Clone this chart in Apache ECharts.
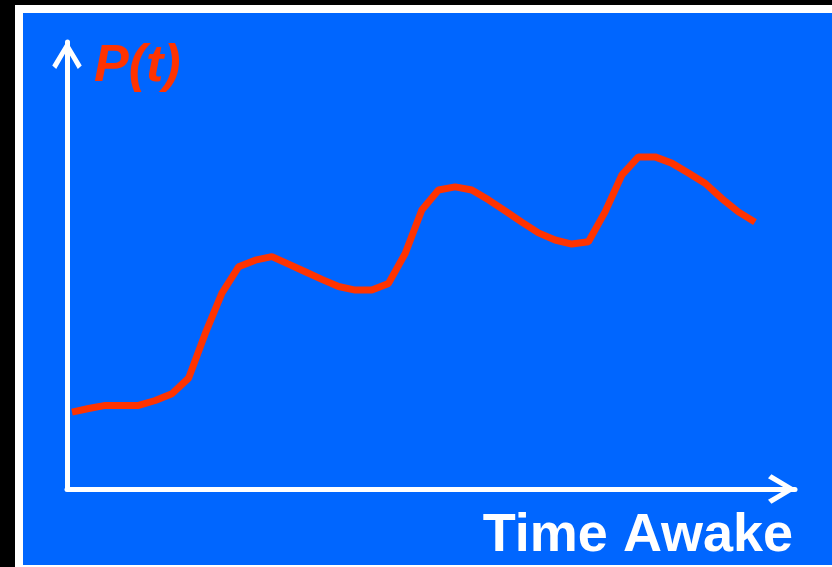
<!DOCTYPE html>
<html>
<head>
<meta charset="utf-8">
<script src="https://cdn.jsdelivr.net/npm/echarts@6/dist/echarts.min.js"></script>
<style>
  html, body { margin: 0; padding: 0; background: #000; }
  #frame { position: absolute; left: 15px; top: 5px; width: 817px; height: 562px; background: #fff; }
  #panel { position: absolute; left: 23px; top: 13px; width: 809px; height: 552px; background: #0066FF; }
  #chart { position: absolute; left: 0; top: 0; width: 832px; height: 567px; }
</style>
</head>
<body>
<div id="frame"></div>
<div id="panel"></div>
<div id="chart"></div>
<script>
// Hours awake (arbitrary units) and the matching sleep pressure P(t)
const timeAwake = [0, 1, 2, 3, 4, 5, 6, 7, 8, 9, 10, 11, 12, 13, 14, 15, 16, 17, 18, 19, 20,
  21, 22, 23, 24, 25, 26, 27, 28, 29, 30, 31, 32, 33, 34, 35, 36, 37, 38, 39, 40, 41];
const pressure = [17.2, 18.0, 18.7, 18.7, 18.7, 19.8, 21.3, 24.8, 34.8, 43.8, 49.7,
  51.2, 52.0, 50.3, 48.6, 46.9, 45.3, 44.5, 44.5, 46.0, 52.7,
  62.4, 66.9, 67.6, 66.9, 64.7, 62.2, 59.7, 57.3, 55.7, 54.8,
  55.3, 62.0, 70.2, 74.3, 74.3, 72.9, 70.7, 68.4, 65.0, 62.0, 59.7];

const yLabel = 'P(t)';
const xLabel = 'Time Awake';

// Open chevron used as the arrowhead on both axes (points up, rotated by the axis)
const chevron = 'path://M15,0 L30,25 L26,28.5 L15,9.5 L4,28.5 L0,25 Z';

const points = timeAwake.map((t, i) => [t, pressure[i]]);

const chart = echarts.init(document.getElementById('chart'), null, { renderer: 'canvas' });
chart.setOption({
  backgroundColor: 'transparent',
  animation: false,
  grid: { left: 67, right: 37, top: 42, bottom: 78 },
  xAxis: {
    type: 'value', min: -0.3, max: 43.4,
    axisLine: {
      show: true, onZero: false,
      lineStyle: { color: '#fff', width: 5 },
      symbol: ['none', chevron], symbolSize: [30, 28], symbolOffset: [0, -13]
    },
    axisTick: { show: false }, axisLabel: { show: false }, splitLine: { show: false }
  },
  yAxis: {
    type: 'value', min: 0, max: 100,
    axisLine: {
      show: true, onZero: false,
      lineStyle: { color: '#fff', width: 5 },
      symbol: ['none', chevron], symbolSize: [30, 28], symbolOffset: [0, -13]
    },
    axisTick: { show: false }, axisLabel: { show: false }, splitLine: { show: false }
  },
  series: [{
    type: 'line',
    data: points,
    showSymbol: false,
    symbol: 'none',
    lineStyle: { color: '#FF3300', width: 7 },
    z: 3
  }],
  graphic: [
    {
      type: 'text', left: 94, top: 41,
      style: {
        text: yLabel, fill: '#FF3300',
        font: 'italic bold 52px "Liberation Sans", Arial, sans-serif'
      }
    },
    {
      type: 'text', right: 39, top: 509,
      style: {
        text: xLabel, fill: '#fff',
        font: 'bold 54px "Liberation Sans", Arial, sans-serif'
      }
    }
  ]
});
</script>
</body>
</html>
